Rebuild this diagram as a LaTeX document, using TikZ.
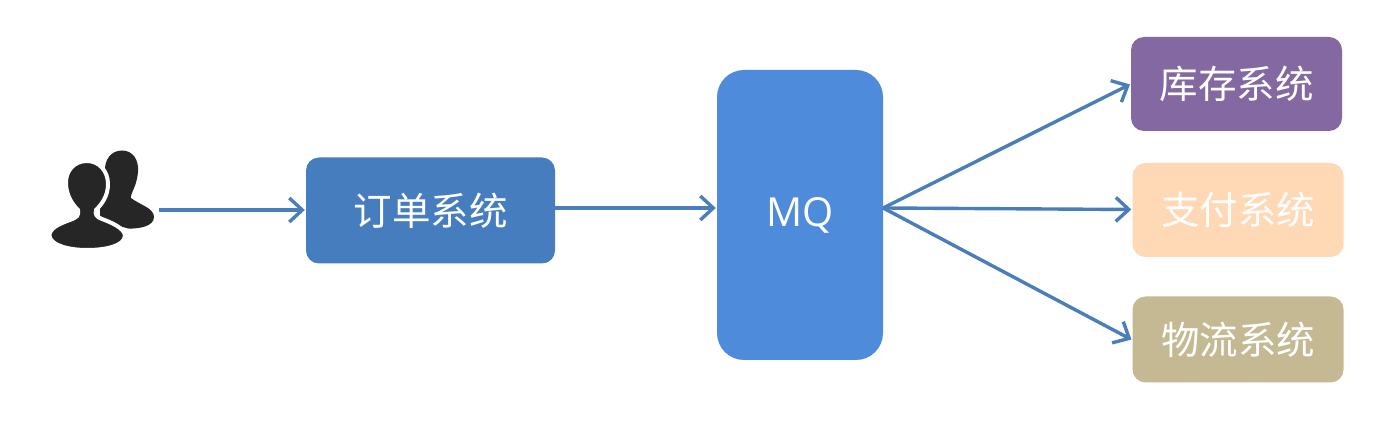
\documentclass[tikz,border=0pt]{standalone}
\usepackage{fontspec}
\setmainfont{Noto Sans CJK SC}[Scale=1]
\setsansfont{Open Sans}
\usetikzlibrary{arrows.meta}
\definecolor{arrowblue}{HTML}{4A7EBB}
\definecolor{orderblue}{HTML}{467DBF}
\definecolor{mqblue}{HTML}{4E8BDB}
\definecolor{stockpurple}{HTML}{8368A2}
\definecolor{payorange}{HTML}{FFD8B5}
\definecolor{shipkhaki}{HTML}{C4B992}
\definecolor{icondark}{HTML}{262626}
\tikzset{
  x=1pt,y=-1pt,
  boxstyle/.style={rectangle,rounded corners=#1,inner sep=0pt,text=white,font=\fontsize{38.5}{38.5}\selectfont},
  boxstyle/.default=13pt,
  flow/.style={draw=arrowblue,line width=3.4pt,-{Straight Barb[length=13pt,width=24pt,line width=3.4pt]},shorten >=1pt},
  iconback/.style={fill=icondark},
  iconfront/.style={fill=icondark,draw=white,line width=4pt}
}
\begin{document}
\begin{tikzpicture}
\useasboundingbox (0,0) rectangle (1387,427);
\fill[white] (0,0) rectangle (1387,427);
% user icon
\path[iconback] (122,150.5)
  .. controls (111,150.5) and (104,160) .. (105,172)
  .. controls (100,190) and (100,210) .. (100,220)
  -- (128,228.5)
  .. controls (140,229) and (154,226) .. (154,217)
  .. controls (154,208) and (140,205) .. (131,198)
  .. controls (130,194) and (137,186) .. (138,172)
  .. controls (139,160) and (133,150.5) .. (122,150.5) -- cycle;
\path[iconfront] (87,161)
  .. controls (74,161) and (65,171) .. (66,185)
  .. controls (67,197) and (73,205) .. (78,210)
  .. controls (79,216) and (77,217) .. (70,220)
  .. controls (58,224) and (49,229) .. (49.5,236)
  .. controls (51,246) and (70,250) .. (87,250)
  .. controls (106,250) and (124,246) .. (125,236)
  .. controls (125,228) and (110,222) .. (102,219)
  .. controls (96,217) and (95,214) .. (96,210)
  .. controls (102,204) and (108,196) .. (108,184)
  .. controls (108,171) and (99,161) .. (87,161) -- cycle;
\coordinate (userout) at (159,210);
% boxes
\node[boxstyle,fill=orderblue,minimum width=249pt,minimum height=106pt] (order) at (430.5,210.5) {订单系统};
\node[boxstyle=27pt,fill=mqblue,minimum width=166pt,minimum height=290pt] (mq) at (800,215) {\sffamily\fontsize{40}{40}\selectfont\raisebox{-2pt}{MQ}};
\node[boxstyle,fill=stockpurple,minimum width=211pt,minimum height=94pt] (stock) at (1236.5,84) {库存系统};
\node[boxstyle,fill=payorange,minimum width=211pt,minimum height=94pt] (pay) at (1238,210) {支付系统};
\node[boxstyle,fill=shipkhaki,minimum width=211pt,minimum height=86pt] (ship) at (1238,339.5) {物流系统};
% connectors
\draw[flow] (userout) -- (order.west |- userout);
\draw[flow] (order.east |- 0,208) -- (mq.west |- 0,208);
\draw[flow] (mq.east |- 0,208) -- (stock.west |- 0,84);
\draw[flow] (mq.east |- 0,208) -- (pay.west |- 0,209.5);
\draw[flow] (mq.east |- 0,208) -- (ship.west |- 0,340);
\end{tikzpicture}
\end{document}
